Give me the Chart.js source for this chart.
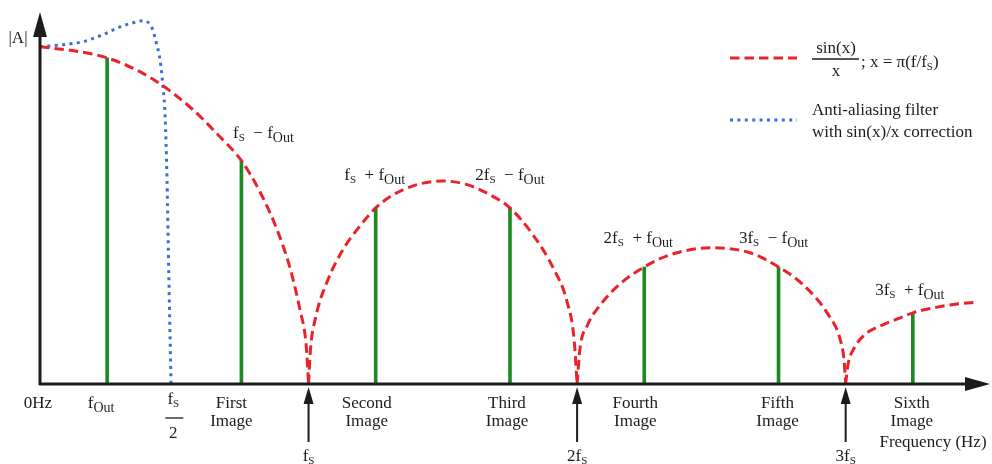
<!DOCTYPE html>
<html>
<head>
<meta charset="utf-8">
<title>sin(x)/x roll-off and images</title>
<script src="https://cdn.jsdelivr.net/npm/chart.js@4.4.1/dist/chart.umd.min.js"></script>
<style>
  html, body { margin: 0; padding: 0; background: #fff; }
  canvas { display: block; }
</style>
</head>
<body>
<canvas id="chart" width="992" height="464"></canvas>
<script>
// Frequencies are multiples of fs, amplitudes are |A| relative to DC.
const mainLobeF = [0, 0.149, 0.25, 0.372, 0.458, 0.57, 0.659, 0.75, 0.819, 0.883, 0.931, 0.968, 0.991, 1.0];
const mainLobeA = [1.0, 0.985, 0.967, 0.926, 0.884, 0.813, 0.742, 0.662, 0.57, 0.457, 0.344, 0.22, 0.116, 0];

const secondLobeF = [1.0, 1.007, 1.026, 1.069, 1.128, 1.192, 1.25, 1.315, 1.404, 1.5, 1.59, 1.676, 1.75, 1.836, 1.911, 1.963, 1.989, 2.0];
const secondLobeA = [0, 0.101, 0.196, 0.303, 0.398, 0.469, 0.522, 0.561, 0.591, 0.602, 0.591, 0.561, 0.522, 0.442, 0.344, 0.243, 0.131, 0];

const thirdLobeF = [2.0, 2.011, 2.037, 2.086, 2.16, 2.25, 2.346, 2.5, 2.644, 2.75, 2.842, 2.931, 2.98, 2.994, 3.0];
const thirdLobeA = [0, 0.107, 0.172, 0.234, 0.297, 0.347, 0.383, 0.404, 0.389, 0.347, 0.294, 0.211, 0.131, 0.071, 0];

const fourthLobeF = [3.0, 3.009, 3.028, 3.065, 3.128, 3.203, 3.25, 3.34, 3.415, 3.493];
const fourthLobeA = [0, 0.059, 0.101, 0.142, 0.172, 0.196, 0.211, 0.228, 0.237, 0.243];

// anti-aliasing filter with the sin(x)/x pre-emphasis
const filterF = [0, 0.086, 0.16, 0.235, 0.298, 0.346, 0.384, 0.417, 0.432, 0.447, 0.458, 0.466, 0.473, 0.48, 0.488];
const filterA = [1.0, 1.006, 1.015, 1.036, 1.059, 1.071, 1.077, 1.056, 1.015, 0.961, 0.881, 0.792, 0.605, 0.309, 0];

// output tone and its images
const stickF = [0.25, 0.75, 1.25, 1.75, 2.25, 2.75, 3.25];
const stickA = [0.967, 0.662, 0.522, 0.522, 0.347, 0.347, 0.211];

const imageNames = ['First', 'Second', 'Third', 'Fourth', 'Fifth', 'Sixth'];
const imageMultiple = [1, 1, 2, 2, 3, 3];
const imageSign = ['\u2212', '+', '\u2212', '+', '\u2212', '+'];
const samplingMultiples = [1, 2, 3];

const RED = '#e8232b';
const BLUE = '#3a6fd6';
const GREEN = '#1f8a22';
const INK = '#1c1c1c';
const FONT = '"Liberation Serif", "Times New Roman", serif';

const pts = (f, a) => f.map((v, i) => ({ x: v, y: a[i] }));

const lobes = [
    [mainLobeF, mainLobeA],
    [secondLobeF, secondLobeA],
    [thirdLobeF, thirdLobeA],
    [fourthLobeF, fourthLobeA]
];

// draws a run of text pieces; kind n = normal, s = small "S" subscript, o = "Out" subscript
function drawParts(ctx, parts, x, y, align) {
    const sizes = { n: 17, s: 11, o: 14 };
    const drops = { n: 0, s: 3, o: 4 };
    let w = 0;
    parts.forEach(([t, k]) => {
        ctx.font = sizes[k] + 'px ' + FONT;
        w += ctx.measureText(t).width;
    });
    let cx = align === 'center' ? x - w / 2 : (align === 'right' ? x - w : x);
    ctx.textAlign = 'left';
    ctx.textBaseline = 'alphabetic';
    parts.forEach(([t, k]) => {
        ctx.font = sizes[k] + 'px ' + FONT;
        ctx.fillText(t, cx, y + drops[k]);
        cx += ctx.measureText(t).width;
    });
}

function imageFormula(i) {
    const n = imageMultiple[i];
    return [
        [(n > 1 ? String(n) : '') + 'f', 'n'],
        ['S', 's'],
        ['  ' + imageSign[i] + ' f', 'n'],
        ['Out', 'o']
    ];
}

const annotations = {
    id: 'annotations',
    afterDatasetsDraw(chart) {
        const ctx = chart.ctx;
        const xs = chart.scales.x, ys = chart.scales.y;
        const X = v => xs.getPixelForValue(v);
        const y0 = ys.getPixelForValue(0);
        const x0 = X(0);

        ctx.save();
        ctx.fillStyle = INK;
        ctx.strokeStyle = INK;
        ctx.setLineDash([]);

        // axes with arrow heads
        ctx.lineWidth = 3;
        ctx.beginPath();
        ctx.moveTo(x0 - 1, y0);
        ctx.lineTo(xs.right - 20, y0);
        ctx.moveTo(x0, y0 + 1);
        ctx.lineTo(x0, ys.top + 20);
        ctx.stroke();
        ctx.beginPath();
        ctx.moveTo(xs.right + 2, y0);
        ctx.lineTo(xs.right - 23, y0 - 7);
        ctx.lineTo(xs.right - 23, y0 + 7);
        ctx.closePath();
        ctx.moveTo(x0, ys.top - 1);
        ctx.lineTo(x0 - 7, ys.top + 24);
        ctx.lineTo(x0 + 7, ys.top + 24);
        ctx.closePath();
        ctx.fill();

        // fs markers below the axis
        ctx.lineWidth = 2;
        samplingMultiples.forEach(n => {
            const x = X(n);
            ctx.beginPath();
            ctx.moveTo(x, y0 + 58);
            ctx.lineTo(x, y0 + 16);
            ctx.stroke();
            ctx.beginPath();
            ctx.moveTo(x, y0 + 3);
            ctx.lineTo(x - 5, y0 + 20);
            ctx.lineTo(x + 5, y0 + 20);
            ctx.closePath();
            ctx.fill();
            drawParts(ctx, [[(n > 1 ? String(n) : '') + 'f', 'n'], ['S', 's']], x, y0 + 77, 'center');
        });

        // axis labels
        drawParts(ctx, [['|A|', 'n']], 18, 43, 'center');
        drawParts(ctx, [['0Hz', 'n']], x0 - 2, y0 + 24, 'center');
        drawParts(ctx, [['f', 'n'], ['Out', 'o']], X(stickF[0]) - 6, y0 + 24, 'center');
        drawParts(ctx, [['f', 'n'], ['S', 's']], X(0.5) - 1, y0 + 20, 'center');
        ctx.lineWidth = 1.3;
        ctx.beginPath();
        ctx.moveTo(X(0.5) - 9, y0 + 34);
        ctx.lineTo(X(0.5) + 9, y0 + 34);
        ctx.stroke();
        drawParts(ctx, [['2', 'n']], X(0.5) - 1, y0 + 54, 'center');
        drawParts(ctx, [['Frequency (Hz)', 'n']], 933, y0 + 63, 'center');

        // image names under the axis, formulas above the sticks
        const nameShift = [-10, -9, -3, -9, -1, -1];
        const formulaShift = [[22, -28], [-1, -33], [0, -33], [-6, -29], [-5, -29], [-3, -23]];
        imageNames.forEach((name, i) => {
            const x = X(stickF[i + 1]) + nameShift[i];
            drawParts(ctx, [[name, 'n']], x, y0 + 24, 'center');
            drawParts(ctx, [['Image', 'n']], x, y0 + 42, 'center');
            const top = ys.getPixelForValue(stickA[i + 1]);
            drawParts(ctx, imageFormula(i), X(stickF[i + 1]) + formulaShift[i][0], top + formulaShift[i][1] + 5, 'center');
        });

        // legend
        ctx.lineWidth = 3;
        ctx.strokeStyle = RED;
        ctx.setLineDash([9.5, 5]);
        ctx.beginPath();
        ctx.moveTo(730, 58);
        ctx.lineTo(797, 58);
        ctx.stroke();
        ctx.strokeStyle = BLUE;
        ctx.setLineDash([3, 4.4]);
        ctx.beginPath();
        ctx.moveTo(730, 120);
        ctx.lineTo(797, 120);
        ctx.stroke();
        ctx.setLineDash([]);
        ctx.strokeStyle = INK;
        ctx.lineWidth = 1.4;
        ctx.beginPath();
        ctx.moveTo(812, 59);
        ctx.lineTo(859, 59);
        ctx.stroke();
        drawParts(ctx, [['sin(x)', 'n']], 836, 53, 'center');
        drawParts(ctx, [['x', 'n']], 836, 76, 'center');
        drawParts(ctx, [['; x = \u03c0(f/f', 'n'], ['S', 's'], [')', 'n']], 861, 67, 'left');
        drawParts(ctx, [['Anti-aliasing filter', 'n']], 812, 115, 'left');
        drawParts(ctx, [['with sin(x)/x correction', 'n']], 812, 137, 'left');

        ctx.restore();
    }
};

new Chart(document.getElementById('chart'), {
    type: 'line',
    data: {
        datasets: [
            ...lobes.map(([f, a]) => ({
                type: 'line',
                data: pts(f, a),
                borderColor: RED,
                borderWidth: 3,
                borderDash: [9.5, 5],
                pointRadius: 0,
                cubicInterpolationMode: 'monotone',
                fill: false
            })),
            {
                type: 'line',
                data: pts(filterF, filterA),
                borderColor: BLUE,
                borderWidth: 3,
                borderDash: [3, 4.4],
                pointRadius: 0,
                cubicInterpolationMode: 'monotone',
                fill: false
            },
            {
                type: 'bar',
                data: pts(stickF, stickA),
                backgroundColor: GREEN,
                barThickness: 3
            }
        ]
    },
    options: {
        responsive: false,
        animation: false,
        devicePixelRatio: 1,
        layout: { padding: { left: 40, right: 4, top: 13, bottom: 80 } },
        plugins: { legend: { display: false }, tooltip: { enabled: false } },
        scales: {
            x: { type: 'linear', min: 0, max: 3.53, offset: false, display: false },
            y: { type: 'linear', min: 0, max: 1.1, display: false }
        }
    },
    plugins: [annotations]
});
</script>
</body>
</html>
